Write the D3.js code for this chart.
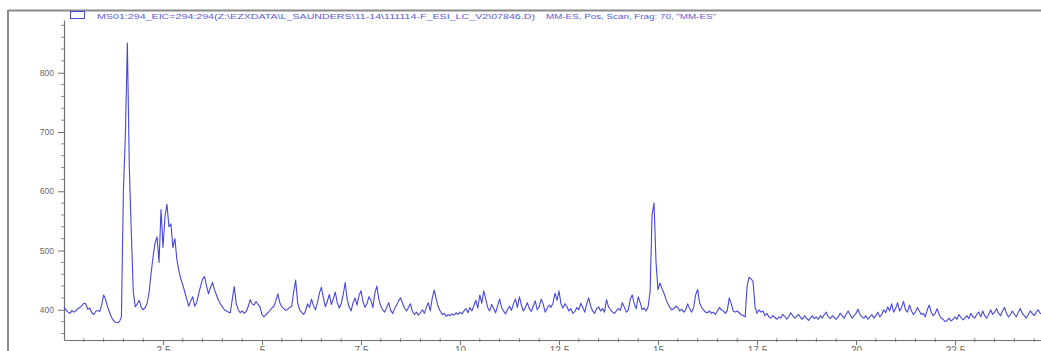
<!DOCTYPE html>
<html>
<head>
<meta charset="utf-8">
<script src="https://cdn.jsdelivr.net/npm/d3@7"></script>
<style>
  html, body { margin: 0; padding: 0; background: #ffffff; }
  svg { display: block; font-family: "Liberation Sans", Arial, sans-serif; }
</style>
</head>
<body>
<svg id="chart" width="1041" height="351"></svg>
<script>
// Extracted ion chromatogram, m/z 294, one scan every 0.05 min starting at 0 min
const scanStart = 0;
const scanStep = 0.05;
const abundance = [
  404, 400, 396, 394, 399, 396, 398, 402, 404, 407,
  411, 410, 401, 403, 395, 392, 397, 399, 397, 408,
  425, 418, 405, 396, 387, 382, 379, 378, 380, 388,
  600, 695, 850, 640, 530, 430, 405, 410, 416, 404,
  400, 404, 411, 430, 462, 490, 513, 523, 480, 569,
  505, 557, 578, 540, 545, 505, 520, 485, 466, 452,
  442, 430, 418, 406, 415, 422, 406, 412, 427, 440,
  452, 456, 440, 427, 438, 446, 434, 425, 416, 410,
  405, 400, 398, 396, 395, 418, 439, 410, 400, 395,
  398, 394, 397, 405, 417, 410, 408, 414, 409, 405,
  392, 388, 392, 395, 399, 403, 406, 415, 427, 412,
  405, 402, 399, 401, 404, 406, 430, 450, 412, 400,
  396, 392, 398, 410, 404, 418, 407, 400, 412, 428,
  438, 420, 405, 414, 426, 409, 418, 430, 412, 403,
  410, 425, 446, 418, 405, 398, 412, 420, 408, 424,
  432, 414, 404, 410, 422, 416, 404, 428, 440, 418,
  406, 400, 396, 404, 412, 399, 394, 402, 408, 415,
  420, 411, 403, 398, 404, 410, 397, 392, 396, 391,
  395, 400, 394, 404, 412, 398, 420, 433, 418, 405,
  398, 392, 394, 389, 392, 390, 393, 391, 395, 392,
  396, 393, 398, 402, 395, 404, 398, 407, 416, 403,
  425, 411, 432, 418, 404, 398, 409, 402, 395, 407,
  418, 404, 398, 393, 401, 406, 399, 410, 418, 404,
  422, 408, 398, 404, 412, 402, 397, 406, 415, 400,
  405, 418, 410, 396, 402, 408, 404, 412, 428, 416,
  432, 410, 403, 410, 405, 398, 402, 394, 397, 404,
  400, 411, 404, 396, 410, 420, 406, 398, 394, 402,
  405, 398, 402, 396, 417, 405, 400, 396, 394, 398,
  402, 399, 412, 404, 396, 400, 418, 425, 410, 402,
  422, 412, 400, 403, 398, 405, 430, 560, 580, 480,
  434, 445, 436, 428, 418, 410, 404, 400, 402, 406,
  404, 398, 401, 396, 400, 410, 402, 396, 404, 425,
  434, 412, 404, 400, 396, 395, 398, 394, 396, 392,
  398, 404, 400, 398, 394, 399, 420, 410, 398, 396,
  398, 395, 392, 390, 388, 440, 455, 452, 448, 405,
  394, 400, 396, 398, 390, 394, 388, 386, 390, 387,
  384, 388, 386, 392, 389, 384, 388, 395, 390, 386,
  389, 392, 387, 384, 390, 386, 382, 386, 390, 385,
  388, 384, 390, 386, 392, 396, 388, 385, 390, 387,
  384, 388, 394, 390, 386, 392, 398, 392, 386, 390,
  394, 401, 392, 388, 386, 390, 384, 388, 392, 386,
  390, 396, 388, 392, 400, 395, 405, 398, 410, 396,
  402, 412, 398, 404, 414, 400, 396, 408, 398, 392,
  396, 404, 398, 392, 394, 388, 400, 408, 396, 390,
  394, 402, 392, 386, 384, 380, 382, 386, 381, 384,
  388, 384, 392, 387, 383, 386, 390, 385, 394, 388,
  386, 392, 396, 388, 398, 390, 386, 392, 400, 392,
  396, 402, 394, 390, 398, 404, 394, 388, 392, 398,
  392, 388, 396, 402, 394, 390, 386, 392, 398, 394,
  390, 396, 400, 394, 392, 388, 395, 398, 394, 390
];

const xTickValues = [2.5, 5, 7.5, 10, 12.5, 15, 17.5, 20, 22.5, 25];
const yTickValues = [400, 500, 600, 700, 800];
const titleSource = "MS01:294_EIC=294:294(Z:\\EZXDATA\\L_SAUNDERS\\11-14\\111114-F_ESI_LC_V2\\07846.D)";
const titleMethod = "MM-ES, Pos, Scan, Frag: 70, \"MM-ES\"";

(function drawChart() {
  const trace = abundance.map((v, i) => ({ t: scanStart + i * scanStep, v }));

  const svg = d3.select("#chart");
  const frameColor = "#8a8a8a";
  const axisColor = "#707070";
  const lineColor = "#4646dc";

  // plot geometry
  const plotLeft = 64, plotBottom = 340, plotTop = 20;
  const x = d3.scaleLinear().domain([0, 25]).range([plotLeft, 1054]);
  const y = d3.scaleLinear().domain([349, 889]).range([plotBottom, plotTop]);

  // outer window frame (top + left edge)
  svg.append("line").attr("x1", 8).attr("x2", 1041).attr("y1", 10.5).attr("y2", 10.5)
    .attr("stroke", frameColor).attr("stroke-width", 2);
  svg.append("line").attr("x1", 8).attr("x2", 8).attr("y1", 10).attr("y2", 351)
    .attr("stroke", frameColor).attr("stroke-width", 2);

  // legend swatch and title
  svg.append("rect").attr("x", 70.5).attr("y", 11.5).attr("width", 14).attr("height", 7)
    .attr("fill", "none").attr("stroke", lineColor).attr("stroke-width", 1);
  svg.append("text").attr("x", 97).attr("y", 19)
    .attr("textLength", 438).attr("lengthAdjust", "spacingAndGlyphs")
    .attr("font-size", 8).attr("fill", "#5a5ad8").text(titleSource);
  svg.append("text").attr("x", 546).attr("y", 19)
    .attr("textLength", 170).attr("lengthAdjust", "spacingAndGlyphs")
    .attr("font-size", 8).attr("fill", "#5a5ad8").text(titleMethod);

  // minor ticks
  const xMinor = d3.range(0.5, 25, 0.5).filter(t => !xTickValues.some(m => Math.abs(m - t) < 1e-6));
  svg.append("g").selectAll("line").data(xMinor).join("line")
    .attr("x1", d => x(d)).attr("x2", d => x(d))
    .attr("y1", plotBottom - 2).attr("y2", plotBottom + 2)
    .attr("stroke", axisColor).attr("stroke-width", 0.8);
  const yMinor = d3.range(360, 889, 20).filter(v => v % 100 !== 0);
  svg.append("g").selectAll("line").data(yMinor).join("line")
    .attr("x1", plotLeft - 3).attr("x2", plotLeft)
    .attr("y1", d => y(d)).attr("y2", d => y(d))
    .attr("stroke", axisColor).attr("stroke-width", 0.8);

  // axes
  const xAxis = svg.append("g").attr("transform", `translate(0,${plotBottom})`)
    .call(d3.axisBottom(x).tickValues(xTickValues).tickSize(5).tickPadding(2)
      .tickFormat(d => String(d)).tickSizeOuter(0));
  const yAxis = svg.append("g").attr("transform", `translate(${plotLeft},0)`)
    .call(d3.axisLeft(y).tickValues(yTickValues).tickSize(6).tickPadding(4).tickSizeOuter(0));

  [xAxis, yAxis].forEach(g => {
    g.select(".domain").attr("stroke", axisColor).attr("stroke-width", 1.2);
    g.selectAll(".tick line").attr("stroke", axisColor);
    g.selectAll(".tick text").attr("fill", "#6a6a6a")
      .attr("font-family", "\"Liberation Sans\", Arial, sans-serif");
  });
  xAxis.selectAll(".tick text").attr("font-size", 10);
  yAxis.selectAll(".tick text").attr("font-size", 8.5);

  // chromatogram trace
  const line = d3.line().x(d => x(d.t)).y(d => y(d.v)).curve(d3.curveLinear);
  svg.append("path").datum(trace)
    .attr("fill", "none").attr("stroke", lineColor).attr("stroke-width", 1.1)
    .attr("stroke-linejoin", "round").attr("d", line);
})();
</script>
</body>
</html>
